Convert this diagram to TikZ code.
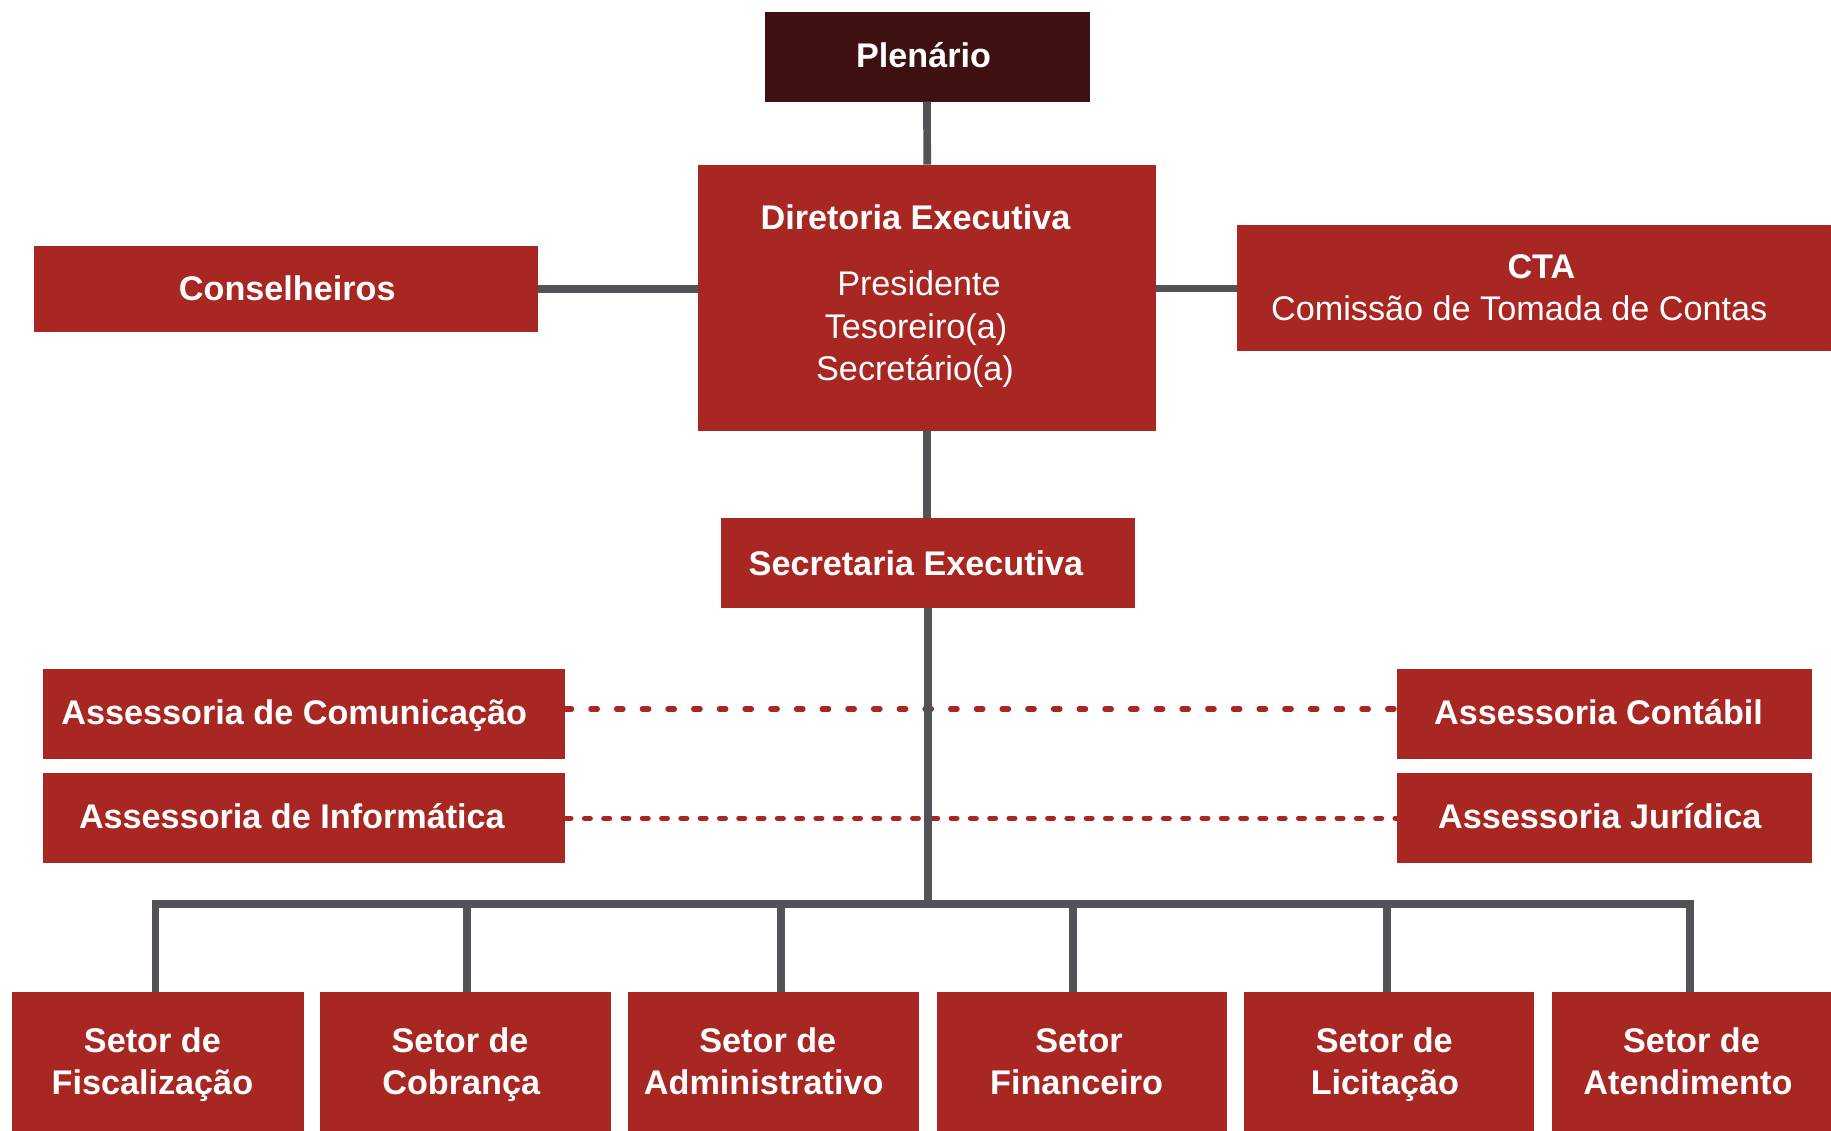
\documentclass[tikz,border=0pt]{standalone}
\usepackage{fontspec}
\setmainfont{Liberation Sans}
\definecolor{boxred}{HTML}{A82722}
\definecolor{darkbox}{HTML}{3F1011}
\definecolor{linegray}{HTML}{515358}
\begin{document}
\begin{tikzpicture}[x=1pt,y=-1pt,
  box/.style={rectangle, fill=boxred, draw=none, inner sep=0pt, outer sep=0pt},
  lbl/.style={text=white, font=\fontsize{34.2}{42}\selectfont, inner sep=0pt, outer sep=0pt, text height=24.5pt, text depth=0pt},
  blbl/.style={lbl, font=\fontsize{34.2}{42}\selectfont\bfseries},
  conn/.style={draw=linegray, line width=7.7pt},
  dotA/.style={draw=boxred, line width=5.3pt, line cap=round, dash pattern=on 6.4pt off 19.3pt},
  dotB/.style={draw=boxred, line width=5.3pt, line cap=round, dash pattern=on 5.7pt off 13.6pt}
]
\useasboundingbox (0,0) rectangle (1831,1131);
\fill[white] (0,0) rectangle (1831,1131);

% boxes
\node[box, fill=darkbox, minimum width=325pt, minimum height=90pt] (plen) at (927,56.6) {};
\node[box, minimum width=457.7pt, minimum height=266.2pt] (dir) at (927.2,297.8) {};
\node[box, minimum width=504.4pt, minimum height=85.2pt] (cons) at (286,289) {};
\node[box, minimum width=603.4pt, minimum height=126.1pt] (cta) at (1538.3,288.4) {};
\node[box, minimum width=414.5pt, minimum height=89.9pt] (sec) at (927.8,563.4) {};
\node[box, minimum width=522pt, minimum height=90pt] (com) at (304.2,714) {};
\node[box, minimum width=522pt, minimum height=90pt] (inf) at (304.2,818) {};
\node[box, minimum width=415.7pt, minimum height=90pt] (cont) at (1604.5,714) {};
\node[box, minimum width=415.7pt, minimum height=90pt] (jur) at (1604.5,818) {};
\node[box, minimum width=291.9pt, minimum height=142.5pt] (s1) at (157.65,1063.5) {};
\node[box, minimum width=290.7pt, minimum height=142.5pt] (s2) at (465.35,1063.5) {};
\node[box, minimum width=290.8pt, minimum height=142.5pt] (s3) at (773.6,1063.5) {};
\node[box, minimum width=290.8pt, minimum height=142.5pt] (s4) at (1081.9,1063.5) {};
\node[box, minimum width=290.7pt, minimum height=142.5pt] (s5) at (1389.05,1063.5) {};
\node[box, minimum width=290.7pt, minimum height=142.5pt] (s6) at (1697.25,1063.5) {};

% labels
\node[blbl] (tplen) at (923.6,54.9) {Plenário};
\node[blbl] (tdir) at (915.5,217.2) {Diretoria Executiva};
\node[lbl] (tpres) at (919,283.7) {Presidente};
\node[lbl] (ttes) at (916,325.8) {Tesoreiro(a)};
\node[lbl] (tsec) at (915,367.8) {Secretário(a)};
\node[blbl] (tcons) at (287.3,288.4) {Conselheiros};
\node[blbl] (tcta) at (1541.4,266.2) {CTA};
\node[lbl] (tcom2) at (1519.2,308.3) {Comissão de Tomada de Contas};
\node[blbl] (tsecr) at (916,562.8) {Secretaria Executiva};
\node[blbl] (tcom) at (294.3,712.3) {Assessoria de Comunicação};
\node[blbl] (tinf) at (291.9,816.2) {Assessoria de Informática};
\node[blbl] (tcont) at (1598.6,712.3) {Assessoria Contábil};
\node[blbl] (tjur) at (1599.8,816.2) {Assessoria Jurídica};
\node[blbl] (t1a) at (152.4,1040.4) {Setor de};
\node[blbl] (t1b) at (152.4,1082.5) {Fiscalização};
\node[blbl] (t2a) at (460.1,1040.4) {Setor de};
\node[blbl] (t2b) at (461.2,1082.5) {Cobrança};
\node[blbl] (t3a) at (767.8,1040.4) {Setor de};
\node[blbl] (t3b) at (763.7,1082.5) {Administrativo};
\node[blbl] (t4a) at (1079,1040.4) {Setor};
\node[blbl] (t4b) at (1076.6,1082.5) {Financeiro};
\node[blbl] (t5a) at (1384.3,1040.4) {Setor de};
\node[blbl] (t5b) at (1384.9,1082.5) {Licitação};
\node[blbl] (t6a) at (1691.4,1040.4) {Setor de};
\node[blbl] (t6b) at (1687.9,1082.5) {Atendimento};

% dotted links
\draw[dotA] ([yshift=5pt]com.east) -- ([yshift=5pt]com.east -| cont.west);
\draw[dotB] ([yshift=-0.3pt]inf.east) -- ([yshift=-0.3pt]inf.east -| jur.west);

% connectors
\coordinate (bus) at (927.8,903.8);
\draw[conn] (plen.south) -- (dir.north);
\draw[conn] (cons.east) -- (cons.east -| dir.west);
\draw[conn] (cta.west -| dir.east) -- (cta.west);
\draw[conn] (dir.south) -- (dir.south |- sec.north);
\draw[conn] (bus |- sec.south) -- (bus);
\draw[conn] ([xshift=-2.3pt]s1.north) |- (bus) -| ([xshift=-7.5pt]s6.north);
\draw[conn] ([xshift=1.6pt]s2.north) -- ([xshift=1.6pt]s2.north |- bus);
\draw[conn] ([xshift=7.6pt]s3.north) -- ([xshift=7.6pt]s3.north |- bus);
\draw[conn] ([xshift=-8.8pt]s4.north) -- ([xshift=-8.8pt]s4.north |- bus);
\draw[conn] ([xshift=-1.8pt]s5.north) -- ([xshift=-1.8pt]s5.north |- bus);
\end{tikzpicture}
\end{document}
